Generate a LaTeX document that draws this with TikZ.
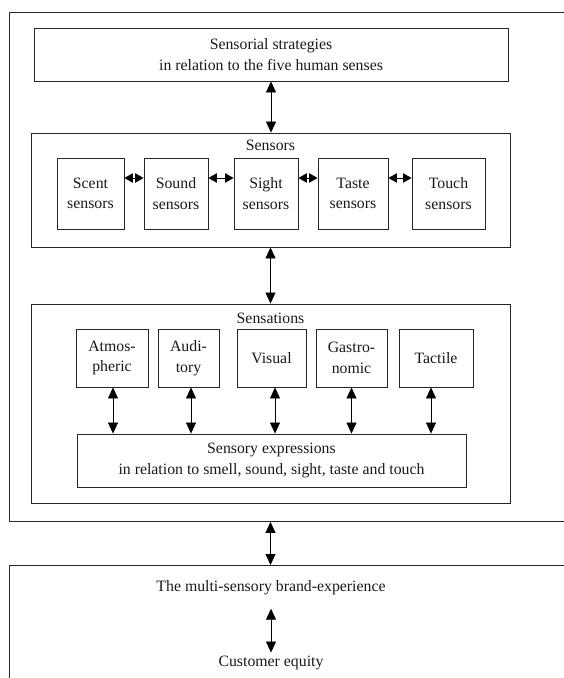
\documentclass[tikz,border=0pt]{standalone}
\usepackage{fontspec}
\setmainfont{Liberation Serif}
\usetikzlibrary{arrows.meta}
\tikzset{
  box/.style={draw=black!85, line width=0.9pt, align=center, inner sep=0pt},
  both/.style={{Triangle[length=11pt,width=10pt]}-{Triangle[length=11pt,width=10pt]}, line width=0.8pt},
  bothsmall/.style={{Triangle[length=8.5pt,width=9.5pt]}-{Triangle[length=8.5pt,width=9.5pt]}, line width=0.8pt},
}
\begin{document}
\begin{tikzpicture}[x=1pt, y=-1pt, font=\fontsize{15.8}{20.5}\selectfont, text=black!90]
    \useasboundingbox (0,0) rectangle (564,678);
    \clip (0,0) rectangle (564,678);

    % 外框
    \node[box, anchor=north west, minimum width=600pt, minimum height=509pt] (outer) at (9,12) {};
    \node[box, anchor=north west, minimum width=600pt, minimum height=200pt] (brand) at (9,565) {};

    % 策略
    \node[box, minimum width=474pt, minimum height=53pt] (strat) at (271,54.5)
        {Sensorial strategies\\in relation to the five human senses};

    % 传感器
    \node[box, minimum width=479pt, minimum height=114pt] (sensframe) at (270.5,190) {};
    \node (senstitle) at (270.5,145) {Sensors};
    \node[box, minimum width=67pt, minimum height=71pt] (scent) at (90.5,193.5) {Scent\\sensors};
    \node[box, minimum width=64pt, minimum height=71pt] (sound) at (176,193.5) {Sound\\sensors};
    \node[box, minimum width=64pt, minimum height=71pt] (sight) at (266,193.5) {Sight\\sensors};
    \node[box, minimum width=70pt, minimum height=71pt] (taste) at (353,193.5) {Taste\\sensors};
    \node[box, minimum width=73pt, minimum height=71pt] (touch) at (448.5,193.5) {Touch\\sensors};

    \draw[bothsmall] ([yshift=15.5pt]scent.east) -- ([yshift=15.5pt]sound.west);
    \draw[bothsmall] ([yshift=15.5pt]sound.east) -- ([yshift=15.5pt]sight.west);
    \draw[bothsmall] ([yshift=15.5pt]sight.east) -- ([yshift=15.5pt]taste.west);
    \draw[bothsmall] ([yshift=15.5pt]taste.east) -- ([yshift=15.5pt]touch.west);

    % 感觉
    \node[box, minimum width=479pt, minimum height=199pt] (sensations) at (270.5,403.5) {};
    \node (senstitle2) at (270.5,318) {Sensations};
    \node[box, minimum width=72pt, minimum height=58pt] (atmos) at (112,358) {Atmos-\\pheric};
    \node[box, minimum width=61pt, minimum height=58pt] (audi) at (188.5,358) {Audi-\\tory};
    \node[box, minimum width=69pt, minimum height=58pt] (visual) at (271.5,358) {Visual};
    \node[box, minimum width=71pt, minimum height=58pt] (gastro) at (351.5,358) {Gastro-\\nomic};
    \node[box, minimum width=74pt, minimum height=58pt] (tactile) at (436,358) {Tactile};
    \node[box, minimum width=389pt, minimum height=53pt] (expr) at (271.5,460.5)
        {Sensory expressions\\in relation to smell, sound, sight, taste and touch};

    \draw[both] ([xshift=1pt]atmos.south) -- ([xshift=1pt]atmos.south |- expr.north);
    \draw[both] ([xshift=2.5pt]audi.south) -- ([xshift=2.5pt]audi.south |- expr.north);
    \draw[both] ([xshift=3.5pt]visual.south) -- ([xshift=3.5pt]visual.south |- expr.north);
    \draw[both] (gastro.south) -- (gastro.south |- expr.north);
    \draw[both] ([xshift=-5pt]tactile.south) -- ([xshift=-5pt]tactile.south |- expr.north);

    % 层间连线
    \draw[both] (strat.south) -- (strat.south |- sensframe.north);
    \draw[both] (sensframe.south) -- (sensframe.south |- sensations.north);
    \draw[both] (sensations.south |- outer.south) -- (sensations.south |- brand.north);

    % 品牌体验
    \node (experience) at (271,588) {The multi-sensory brand-experience};
    \node (equity) at (271,663) {Customer equity};
    \draw[both] ([yshift=-10pt]experience.south) -- (equity.north);
\end{tikzpicture}
\end{document}
